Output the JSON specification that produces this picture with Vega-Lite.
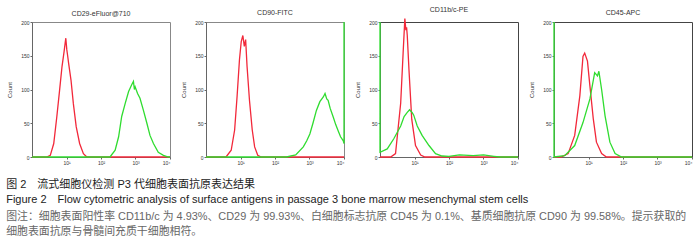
{
  "$schema": "https://vega.github.io/schema/vega-lite/v6.json",
  "background": "white",
  "padding": {"left": 6, "top": 5, "right": 8, "bottom": 5},
  "config": {
    "font": "Liberation Sans, Noto Sans CJK SC",
    "concat": {"spacing": 36},
    "view": {"stroke": "#666", "strokeWidth": 1},
    "axis": {"grid": false, "labelFontSize": 5, "labelColor": "#333", "domainColor": "#666", "tickColor": "#666", "tickSize": 2, "labelPadding": 1, "titleFontSize": 6, "titleFontWeight": "normal", "titleColor": "#333"},
    "title": {"fontSize": 7, "fontWeight": "normal", "color": "#333", "offset": 3},
    "line": {"strokeWidth": 1.3, "clip": true}
  },
  "bounds": "flush",
  "title": {
    "text": ["图 2　流式细胞仪检测 P3 代细胞表面抗原表达结果", "Figure 2　Flow cytometric analysis of surface antigens in passage 3 bone marrow mesenchymal stem cells"],
    "subtitle": ["图注：细胞表面阳性率 CD11b/c 为 4.93%、CD29 为 99.93%、白细胞标志抗原 CD45 为 0.1%、基质细胞抗原 CD90 为 99.58%。提示获取的", "细胞表面抗原与骨髓间充质干细胞相符。"],
    "orient": "bottom",
    "anchor": "start",
    "frame": "bounds",
    "fontSize": 11,
    "color": "#222",
    "lineHeight": 15,
    "subtitleFontSize": 10.9,
    "subtitleColor": "#666",
    "subtitleLineHeight": 15,
    "subtitlePadding": 6,
    "offset": 13
  },
  "datasets": {
    "p1": [
      {"s": "r", "i": 0, "x": 1, "y": 0}, {"s": "r", "i": 1, "x": 2.69, "y": 0}, {"s": "r", "i": 2, "x": 3.39, "y": 2.5}, {"s": "r", "i": 3, "x": 4.27, "y": 20}, {"s": "r", "i": 4, "x": 5.25, "y": 60}, {"s": "r", "i": 5, "x": 6.31, "y": 99}, {"s": "r", "i": 6, "x": 7.41, "y": 134}, {"s": "r", "i": 7, "x": 8.51, "y": 156}, {"s": "r", "i": 8, "x": 9.1, "y": 168}, {"s": "r", "i": 9, "x": 9.55, "y": 176}, {"s": "r", "i": 10, "x": 10.2, "y": 159}, {"s": "r", "i": 11, "x": 10.8, "y": 150}, {"s": "r", "i": 12, "x": 11.5, "y": 139}, {"s": "r", "i": 13, "x": 13.5, "y": 114}, {"s": "r", "i": 14, "x": 15.8, "y": 79}, {"s": "r", "i": 15, "x": 19.1, "y": 45}, {"s": "r", "i": 16, "x": 24.0, "y": 20}, {"s": "r", "i": 17, "x": 30.9, "y": 5}, {"s": "r", "i": 18, "x": 38.9, "y": 0}, {"s": "r", "i": 19, "x": 10000, "y": 0},
      {"s": "g", "i": 0, "x": 1, "y": 0}, {"s": "g", "i": 1, "x": 182, "y": 0}, {"s": "g", "i": 2, "x": 257, "y": 10}, {"s": "g", "i": 3, "x": 324, "y": 30}, {"s": "g", "i": 4, "x": 398, "y": 60}, {"s": "g", "i": 5, "x": 501, "y": 79}, {"s": "g", "i": 6, "x": 631, "y": 97}, {"s": "g", "i": 7, "x": 776, "y": 107}, {"s": "g", "i": 8, "x": 871, "y": 112}, {"s": "g", "i": 9, "x": 930, "y": 100}, {"s": "g", "i": 10, "x": 977, "y": 104}, {"s": "g", "i": 11, "x": 1148, "y": 94}, {"s": "g", "i": 12, "x": 1349, "y": 87}, {"s": "g", "i": 13, "x": 1698, "y": 69}, {"s": "g", "i": 14, "x": 2138, "y": 50}, {"s": "g", "i": 15, "x": 2630, "y": 32}, {"s": "g", "i": 16, "x": 3311, "y": 20}, {"s": "g", "i": 17, "x": 4571, "y": 7}, {"s": "g", "i": 18, "x": 6457, "y": 2.5}, {"s": "g", "i": 19, "x": 8913, "y": 0}, {"s": "g", "i": 20, "x": 10000, "y": 0}
    ],
    "p2": [
      {"s": "r", "i": 0, "x": 1, "y": 0}, {"s": "r", "i": 1, "x": 3.8, "y": 0}, {"s": "r", "i": 2, "x": 5.37, "y": 10}, {"s": "r", "i": 3, "x": 6.76, "y": 40}, {"s": "r", "i": 4, "x": 7.94, "y": 89}, {"s": "r", "i": 5, "x": 9.33, "y": 144}, {"s": "r", "i": 6, "x": 10.5, "y": 171}, {"s": "r", "i": 7, "x": 11.7, "y": 180}, {"s": "r", "i": 8, "x": 12.9, "y": 164}, {"s": "r", "i": 9, "x": 14.1, "y": 174}, {"s": "r", "i": 10, "x": 15.5, "y": 134}, {"s": "r", "i": 11, "x": 18.2, "y": 84}, {"s": "r", "i": 12, "x": 21.9, "y": 40}, {"s": "r", "i": 13, "x": 25.7, "y": 15}, {"s": "r", "i": 14, "x": 31.6, "y": 2.5}, {"s": "r", "i": 15, "x": 39.8, "y": 0}, {"s": "r", "i": 16, "x": 10000, "y": 0},
      {"s": "g", "i": 0, "x": 1, "y": 0}, {"s": "g", "i": 1, "x": 214, "y": 0}, {"s": "g", "i": 2, "x": 398, "y": 3}, {"s": "g", "i": 3, "x": 661, "y": 15}, {"s": "g", "i": 4, "x": 832, "y": 24}, {"s": "g", "i": 5, "x": 1023, "y": 34}, {"s": "g", "i": 6, "x": 1259, "y": 50}, {"s": "g", "i": 7, "x": 1585, "y": 69}, {"s": "g", "i": 8, "x": 1995, "y": 82}, {"s": "g", "i": 9, "x": 2512, "y": 89}, {"s": "g", "i": 10, "x": 2818, "y": 94}, {"s": "g", "i": 11, "x": 3162, "y": 86}, {"s": "g", "i": 12, "x": 3467, "y": 84}, {"s": "g", "i": 13, "x": 3981, "y": 72}, {"s": "g", "i": 14, "x": 4898, "y": 59}, {"s": "g", "i": 15, "x": 5754, "y": 48}, {"s": "g", "i": 16, "x": 6761, "y": 39}, {"s": "g", "i": 17, "x": 7943, "y": 30}, {"s": "g", "i": 18, "x": 9550, "y": 24}, {"s": "g", "i": 19, "x": 10000, "y": 20}, {"s": "g", "i": 20, "x": 10000, "y": 200}
    ],
    "p3": [
      {"s": "r", "i": 0, "x": 1, "y": 0}, {"s": "r", "i": 1, "x": 2.04, "y": 0}, {"s": "r", "i": 2, "x": 2.82, "y": 5}, {"s": "r", "i": 3, "x": 3.98, "y": 80}, {"s": "r", "i": 4, "x": 4.68, "y": 154}, {"s": "r", "i": 5, "x": 5.25, "y": 205}, {"s": "r", "i": 6, "x": 5.62, "y": 188}, {"s": "r", "i": 7, "x": 5.9, "y": 192}, {"s": "r", "i": 8, "x": 6.17, "y": 180}, {"s": "r", "i": 9, "x": 6.92, "y": 129}, {"s": "r", "i": 10, "x": 8.32, "y": 56}, {"s": "r", "i": 11, "x": 10.7, "y": 17}, {"s": "r", "i": 12, "x": 15.1, "y": 3}, {"s": "r", "i": 13, "x": 20, "y": 0}, {"s": "r", "i": 14, "x": 10000, "y": 0},
      {"s": "g", "i": 0, "x": 1, "y": 200}, {"s": "g", "i": 1, "x": 1, "y": 7}, {"s": "g", "i": 2, "x": 1.62, "y": 12}, {"s": "g", "i": 3, "x": 2.51, "y": 27}, {"s": "g", "i": 4, "x": 3.98, "y": 46}, {"s": "g", "i": 5, "x": 5.0, "y": 60}, {"s": "g", "i": 6, "x": 6.17, "y": 66}, {"s": "g", "i": 7, "x": 7.2, "y": 70}, {"s": "g", "i": 8, "x": 8.51, "y": 66}, {"s": "g", "i": 9, "x": 9.5, "y": 62}, {"s": "g", "i": 10, "x": 12.0, "y": 46}, {"s": "g", "i": 11, "x": 16.6, "y": 32}, {"s": "g", "i": 12, "x": 26.3, "y": 17}, {"s": "g", "i": 13, "x": 40.7, "y": 5}, {"s": "g", "i": 14, "x": 63.1, "y": 1.5}, {"s": "g", "i": 15, "x": 100, "y": 1}, {"s": "g", "i": 16, "x": 200, "y": 3}, {"s": "g", "i": 17, "x": 500, "y": 2}, {"s": "g", "i": 18, "x": 1000, "y": 3}, {"s": "g", "i": 19, "x": 2000, "y": 1}, {"s": "g", "i": 20, "x": 3000, "y": 0}, {"s": "g", "i": 21, "x": 10000, "y": 0}
    ],
    "p4": [
      {"s": "r", "i": 0, "x": 1, "y": 0}, {"s": "r", "i": 1, "x": 1.62, "y": 0}, {"s": "r", "i": 2, "x": 2.57, "y": 5}, {"s": "r", "i": 3, "x": 3.98, "y": 32}, {"s": "r", "i": 4, "x": 5.62, "y": 91}, {"s": "r", "i": 5, "x": 6.92, "y": 149}, {"s": "r", "i": 6, "x": 7.76, "y": 154}, {"s": "r", "i": 7, "x": 9.33, "y": 142}, {"s": "r", "i": 8, "x": 11.0, "y": 105}, {"s": "r", "i": 9, "x": 13.8, "y": 56}, {"s": "r", "i": 10, "x": 17.0, "y": 22}, {"s": "r", "i": 11, "x": 24.0, "y": 5}, {"s": "r", "i": 12, "x": 33.1, "y": 0}, {"s": "r", "i": 13, "x": 10000, "y": 0},
      {"s": "g", "i": 0, "x": 1, "y": 200}, {"s": "g", "i": 1, "x": 1, "y": 0}, {"s": "g", "i": 2, "x": 2.04, "y": 2}, {"s": "g", "i": 3, "x": 3.98, "y": 17}, {"s": "g", "i": 4, "x": 6.92, "y": 51}, {"s": "g", "i": 5, "x": 11.0, "y": 86}, {"s": "g", "i": 6, "x": 15.1, "y": 125}, {"s": "g", "i": 7, "x": 18.2, "y": 120}, {"s": "g", "i": 8, "x": 20.0, "y": 127}, {"s": "g", "i": 9, "x": 24.0, "y": 100}, {"s": "g", "i": 10, "x": 30.2, "y": 61}, {"s": "g", "i": 11, "x": 41.7, "y": 22}, {"s": "g", "i": 12, "x": 58.9, "y": 5}, {"s": "g", "i": 13, "x": 91.2, "y": 0}, {"s": "g", "i": 14, "x": 10000, "y": 0}
    ]
  },
  "hconcat": [
    {
      "data": {"name": "p1"}, "title": "CD29-eFluor@710", "width": 138, "height": 135,
      "view": {"stroke": "#888"},
      "mark": {"type": "line"},
      "encoding": {
        "x": {"field": "x", "type": "quantitative", "scale": {"type": "log", "domain": [1, 10000]}, "axis": {"values": [10, 100, 1000, 10000], "title": null, "labelExpr": "datum.value == 10 ? '10¹' : datum.value == 100 ? '10²' : datum.value == 1000 ? '10³' : '10⁴'"}},
        "y": {"field": "y", "type": "quantitative", "scale": {"domain": [0, 200]}, "axis": {"values": [0, 50, 100, 150, 200], "title": "Count", "titlePadding": 8}},
        "color": {"field": "s", "type": "nominal", "scale": {"domain": ["r", "g"], "range": ["#f2283a", "#2fdc2f"]}, "legend": null},
        "order": {"field": "i", "type": "quantitative"}
      }
    },
    {
      "data": {"name": "p2"}, "title": "CD90-FITC", "width": 138, "height": 135,
      "view": {"stroke": "#888"},
      "mark": {"type": "line"},
      "encoding": {
        "x": {"field": "x", "type": "quantitative", "scale": {"type": "log", "domain": [1, 10000]}, "axis": {"values": [10, 100, 1000, 10000], "title": null, "labelExpr": "datum.value == 10 ? '10¹' : datum.value == 100 ? '10²' : datum.value == 1000 ? '10³' : '10⁴'"}},
        "y": {"field": "y", "type": "quantitative", "scale": {"domain": [0, 200]}, "axis": {"values": [0, 50, 100, 150, 200], "title": "Count", "titlePadding": 8}},
        "color": {"field": "s", "type": "nominal", "scale": {"domain": ["r", "g"], "range": ["#f2283a", "#2fdc2f"]}, "legend": null},
        "order": {"field": "i", "type": "quantitative"}
      }
    },
    {
      "data": {"name": "p3"}, "title": "CD11b/c-PE", "width": 138, "height": 135,
      "view": {"stroke": "#444"},
      "mark": {"type": "line"},
      "encoding": {
        "x": {"field": "x", "type": "quantitative", "scale": {"type": "log", "domain": [1, 10000]}, "axis": {"values": [10, 100, 1000, 10000], "title": null, "labelExpr": "datum.value == 10 ? '10¹' : datum.value == 100 ? '10²' : datum.value == 1000 ? '10³' : '10⁴'"}},
        "y": {"field": "y", "type": "quantitative", "scale": {"domain": [0, 200]}, "axis": {"values": [0, 50, 100, 150, 200], "title": "Count", "titlePadding": 8}},
        "color": {"field": "s", "type": "nominal", "scale": {"domain": ["r", "g"], "range": ["#f2283a", "#2fdc2f"]}, "legend": null},
        "order": {"field": "i", "type": "quantitative"}
      }
    },
    {
      "data": {"name": "p4"}, "title": "CD45-APC", "width": 138, "height": 135,
      "view": {"stroke": "#444"},
      "mark": {"type": "line"},
      "encoding": {
        "x": {"field": "x", "type": "quantitative", "scale": {"type": "log", "domain": [1, 10000]}, "axis": {"values": [10, 100, 1000, 10000], "title": null, "labelExpr": "datum.value == 10 ? '10¹' : datum.value == 100 ? '10²' : datum.value == 1000 ? '10³' : '10⁴'"}},
        "y": {"field": "y", "type": "quantitative", "scale": {"domain": [0, 200]}, "axis": {"values": [0, 50, 100, 150, 200], "title": "Count", "titlePadding": 8}},
        "color": {"field": "s", "type": "nominal", "scale": {"domain": ["r", "g"], "range": ["#f2283a", "#2fdc2f"]}, "legend": null},
        "order": {"field": "i", "type": "quantitative"}
      }
    }
  ]
}
